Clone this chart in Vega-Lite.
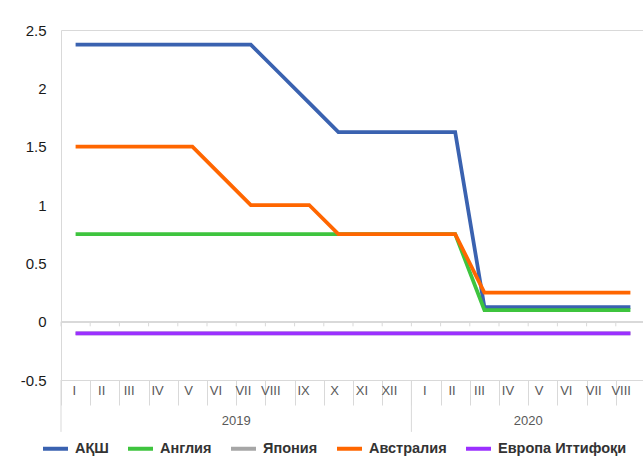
{
  "$schema": "https://vega.github.io/schema/vega-lite/v6.json",
  "width": 584,
  "height": 350,
  "autosize": {"type": "none"},
  "padding": {"left": 61, "top": 30, "right": 0, "bottom": 81},
  "background": "white",
  "config": {
    "view": {"stroke": "#d9d9d9"},
    "font": "Liberation Sans"
  },
  "datasets": {
    "rates": [
      {"m": "2019-01", "s": "АҚШ", "v": 2.375},
      {"m": "2019-02", "s": "АҚШ", "v": 2.375},
      {"m": "2019-03", "s": "АҚШ", "v": 2.375},
      {"m": "2019-04", "s": "АҚШ", "v": 2.375},
      {"m": "2019-05", "s": "АҚШ", "v": 2.375},
      {"m": "2019-06", "s": "АҚШ", "v": 2.375},
      {"m": "2019-07", "s": "АҚШ", "v": 2.375},
      {"m": "2019-08", "s": "АҚШ", "v": 2.125},
      {"m": "2019-09", "s": "АҚШ", "v": 1.875},
      {"m": "2019-10", "s": "АҚШ", "v": 1.625},
      {"m": "2019-11", "s": "АҚШ", "v": 1.625},
      {"m": "2019-12", "s": "АҚШ", "v": 1.625},
      {"m": "2020-01", "s": "АҚШ", "v": 1.625},
      {"m": "2020-02", "s": "АҚШ", "v": 1.625},
      {"m": "2020-03", "s": "АҚШ", "v": 0.125},
      {"m": "2020-04", "s": "АҚШ", "v": 0.125},
      {"m": "2020-05", "s": "АҚШ", "v": 0.125},
      {"m": "2020-06", "s": "АҚШ", "v": 0.125},
      {"m": "2020-07", "s": "АҚШ", "v": 0.125},
      {"m": "2020-08", "s": "АҚШ", "v": 0.125},
      {"m": "2019-01", "s": "Англия", "v": 0.75},
      {"m": "2019-02", "s": "Англия", "v": 0.75},
      {"m": "2019-03", "s": "Англия", "v": 0.75},
      {"m": "2019-04", "s": "Англия", "v": 0.75},
      {"m": "2019-05", "s": "Англия", "v": 0.75},
      {"m": "2019-06", "s": "Англия", "v": 0.75},
      {"m": "2019-07", "s": "Англия", "v": 0.75},
      {"m": "2019-08", "s": "Англия", "v": 0.75},
      {"m": "2019-09", "s": "Англия", "v": 0.75},
      {"m": "2019-10", "s": "Англия", "v": 0.75},
      {"m": "2019-11", "s": "Англия", "v": 0.75},
      {"m": "2019-12", "s": "Англия", "v": 0.75},
      {"m": "2020-01", "s": "Англия", "v": 0.75},
      {"m": "2020-02", "s": "Англия", "v": 0.75},
      {"m": "2020-03", "s": "Англия", "v": 0.1},
      {"m": "2020-04", "s": "Англия", "v": 0.1},
      {"m": "2020-05", "s": "Англия", "v": 0.1},
      {"m": "2020-06", "s": "Англия", "v": 0.1},
      {"m": "2020-07", "s": "Англия", "v": 0.1},
      {"m": "2020-08", "s": "Англия", "v": 0.1},
      {"m": "2019-01", "s": "Япония", "v": -0.1},
      {"m": "2019-02", "s": "Япония", "v": -0.1},
      {"m": "2019-03", "s": "Япония", "v": -0.1},
      {"m": "2019-04", "s": "Япония", "v": -0.1},
      {"m": "2019-05", "s": "Япония", "v": -0.1},
      {"m": "2019-06", "s": "Япония", "v": -0.1},
      {"m": "2019-07", "s": "Япония", "v": -0.1},
      {"m": "2019-08", "s": "Япония", "v": -0.1},
      {"m": "2019-09", "s": "Япония", "v": -0.1},
      {"m": "2019-10", "s": "Япония", "v": -0.1},
      {"m": "2019-11", "s": "Япония", "v": -0.1},
      {"m": "2019-12", "s": "Япония", "v": -0.1},
      {"m": "2020-01", "s": "Япония", "v": -0.1},
      {"m": "2020-02", "s": "Япония", "v": -0.1},
      {"m": "2020-03", "s": "Япония", "v": -0.1},
      {"m": "2020-04", "s": "Япония", "v": -0.1},
      {"m": "2020-05", "s": "Япония", "v": -0.1},
      {"m": "2020-06", "s": "Япония", "v": -0.1},
      {"m": "2020-07", "s": "Япония", "v": -0.1},
      {"m": "2020-08", "s": "Япония", "v": -0.1},
      {"m": "2019-01", "s": "Австралия", "v": 1.5},
      {"m": "2019-02", "s": "Австралия", "v": 1.5},
      {"m": "2019-03", "s": "Австралия", "v": 1.5},
      {"m": "2019-04", "s": "Австралия", "v": 1.5},
      {"m": "2019-05", "s": "Австралия", "v": 1.5},
      {"m": "2019-06", "s": "Австралия", "v": 1.25},
      {"m": "2019-07", "s": "Австралия", "v": 1.0},
      {"m": "2019-08", "s": "Австралия", "v": 1.0},
      {"m": "2019-09", "s": "Австралия", "v": 1.0},
      {"m": "2019-10", "s": "Австралия", "v": 0.75},
      {"m": "2019-11", "s": "Австралия", "v": 0.75},
      {"m": "2019-12", "s": "Австралия", "v": 0.75},
      {"m": "2020-01", "s": "Австралия", "v": 0.75},
      {"m": "2020-02", "s": "Австралия", "v": 0.75},
      {"m": "2020-03", "s": "Австралия", "v": 0.25},
      {"m": "2020-04", "s": "Австралия", "v": 0.25},
      {"m": "2020-05", "s": "Австралия", "v": 0.25},
      {"m": "2020-06", "s": "Австралия", "v": 0.25},
      {"m": "2020-07", "s": "Австралия", "v": 0.25},
      {"m": "2020-08", "s": "Австралия", "v": 0.25},
      {"m": "2019-01", "s": "Европа Иттифоқи", "v": -0.1},
      {"m": "2019-02", "s": "Европа Иттифоқи", "v": -0.1},
      {"m": "2019-03", "s": "Европа Иттифоқи", "v": -0.1},
      {"m": "2019-04", "s": "Европа Иттифоқи", "v": -0.1},
      {"m": "2019-05", "s": "Европа Иттифоқи", "v": -0.1},
      {"m": "2019-06", "s": "Европа Иттифоқи", "v": -0.1},
      {"m": "2019-07", "s": "Европа Иттифоқи", "v": -0.1},
      {"m": "2019-08", "s": "Европа Иттифоқи", "v": -0.1},
      {"m": "2019-09", "s": "Европа Иттифоқи", "v": -0.1},
      {"m": "2019-10", "s": "Европа Иттифоқи", "v": -0.1},
      {"m": "2019-11", "s": "Европа Иттифоқи", "v": -0.1},
      {"m": "2019-12", "s": "Европа Иттифоқи", "v": -0.1},
      {"m": "2020-01", "s": "Европа Иттифоқи", "v": -0.1},
      {"m": "2020-02", "s": "Европа Иттифоқи", "v": -0.1},
      {"m": "2020-03", "s": "Европа Иттифоқи", "v": -0.1},
      {"m": "2020-04", "s": "Европа Иттифоқи", "v": -0.1},
      {"m": "2020-05", "s": "Европа Иттифоқи", "v": -0.1},
      {"m": "2020-06", "s": "Европа Иттифоқи", "v": -0.1},
      {"m": "2020-07", "s": "Европа Иттифоқи", "v": -0.1},
      {"m": "2020-08", "s": "Европа Иттифоқи", "v": -0.1}
    ],
    "years": [
      {"m": "2019-06", "year": "2019"},
      {"m": "2020-04", "year": "2020"}
    ],
    "seps": [
      {"m": "2019-01"},
      {"m": "2020-01"}
    ]
  },
  "data": {"name": "rates"},
  "layer": [
    {
      "mark": {"type": "rule", "color": "#d9d9d9", "strokeWidth": 1},
      "encoding": {"y": {"datum": 0, "type": "quantitative"}}
    },
    {
      "transform": [{"filter": "datum.s === 'АҚШ'"}],
      "mark": {"type": "rule", "color": "#d9d9d9", "strokeWidth": 1},
      "encoding": {
        "x": {"field": "m", "type": "nominal", "bandPosition": 0},
        "y": {"datum": 0, "type": "quantitative"},
        "y2": {"datum": -0.04}
      }
    },
    {
      "data": {"name": "seps"},
      "mark": {"type": "rule", "color": "#d9d9d9", "strokeWidth": 1},
      "encoding": {
        "x": {"field": "m", "type": "nominal", "bandPosition": 0},
        "y": {"datum": -0.5, "type": "quantitative"},
        "y2": {"datum": -0.945}
      }
    },
    {
      "mark": {"type": "line", "strokeWidth": 3.75, "strokeCap": "butt"},
      "encoding": {
        "x": {
          "field": "m",
          "type": "nominal",
          "bandPosition": 0.5,
          "scale": {"type": "band", "paddingInner": 0, "paddingOuter": 0},
          "axis": {
            "title": null,
            "domain": false,
            "grid": false,
            "ticks": true,
            "tickBand": "extent",
            "tickSize": 25,
            "tickColor": "#d9d9d9",
            "labelAngle": 0,
            "labelFontSize": 13,
            "labelColor": "#595959",
            "labelPadding": -15,
            "labelExpr": "['I','II','III','IV','V','VI','VII','VIII','IX','X','XI','XII'][toNumber(substring(datum.label, 5)) - 1]"
          }
        },
        "y": {
          "field": "v",
          "type": "quantitative",
          "scale": {"domain": [-0.5, 2.5], "nice": false, "zero": false},
          "axis": {
            "title": null,
            "values": [-0.5, 0, 0.5, 1, 1.5, 2, 2.5],
            "domain": false,
            "ticks": false,
            "grid": false,
            "labelFontSize": 15,
            "labelColor": "#1a1a1a",
            "labelPadding": 15,
            "labelExpr": "'' + datum.value"
          }
        },
        "color": {
          "field": "s",
          "type": "nominal",
          "scale": {
            "domain": ["АҚШ", "Англия", "Япония", "Австралия", "Европа Иттифоқи"],
            "range": ["#3a62b0", "#3ec43e", "#a6a6a6", "#ff6600", "#9b30ff"]
          },
          "legend": {
            "title": null,
            "orient": "none",
            "legendX": -20,
            "legendY": 404,
            "direction": "horizontal",
            "columns": 5,
            "symbolType": "stroke",
            "symbolSize": 625,
            "symbolStrokeWidth": 4,
            "labelFontSize": 14.5,
            "labelFontWeight": "bold",
            "labelColor": "#333333",
            "labelOffset": 5,
            "columnPadding": 11
          }
        }
      }
    },
    {
      "data": {"name": "years"},
      "mark": {"type": "text", "fontSize": 13, "color": "#595959", "baseline": "middle", "align": "center"},
      "encoding": {
        "x": {"field": "m", "type": "nominal", "bandPosition": 1},
        "y": {"datum": -0.855, "type": "quantitative"},
        "text": {"field": "year"}
      }
    }
  ]
}
